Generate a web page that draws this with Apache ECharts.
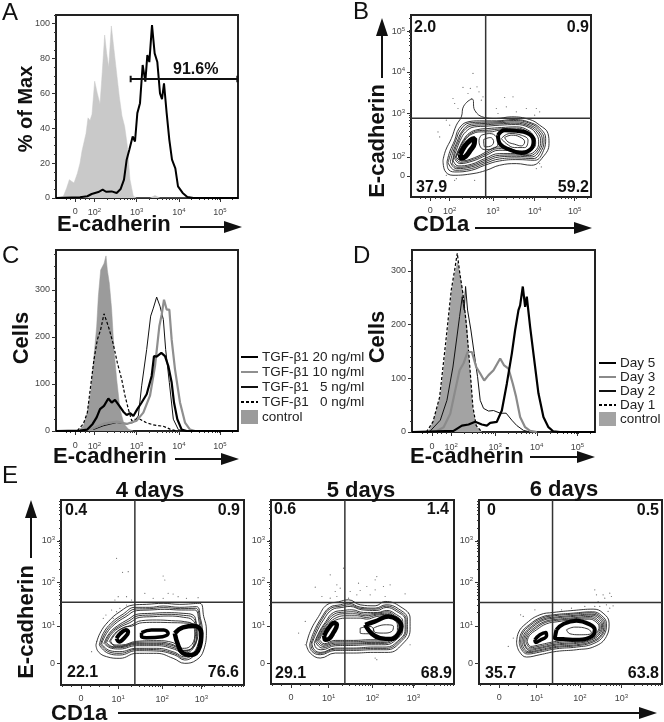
<!DOCTYPE html>
<html><head><meta charset="utf-8">
<style>html,body{margin:0;padding:0;background:#fff}#c{width:664px;height:722px;filter:blur(.4px)}</style>
<script src="https://cdn.jsdelivr.net/npm/echarts@6/dist/echarts.min.js"></script>
</head><body><div id="c"></div>
<script>
// ---------- Panel A : % of Max vs display channel ----------
const aControl=[[168,0],[190,1],[200,5.7],[208,10.5],[214,10],[222,8.6],[232,14],[240,20],[246,27],[252,27],[258,37],[264,46],[270,44.5],[276,48],[284,67],[292,60],[300,54],[306,70],[314,93.5],[320,83],[326,75],[334,98.7],[342,85],[350,71.5],[358,58],[366,47],[374,41],[382,30],[390,10.5],[400,1],[410,0],[450,0],[465,1.4],[480,0],[714,0]];
const aStained=[[168,0],[240,0.4],[262,1],[275,2.3],[295,3.4],[308,4.8],[318,3.6],[335,3.8],[350,2.9],[362,5.2],[372,10.5],[380,22],[388,27.7],[398,35.3],[405,32.4],[412,48.7],[420,54.4],[428,76.3],[436,66.8],[442,82],[448,78],[456,99.2],[464,83],[472,78],[480,60],[486,56.7],[492,65.8],[500,48.7],[508,33.4],[516,22],[526,17],[534,6.7],[548,2.9],[562,0.6],[580,0],[714,0]];
const aGate=[[392,66.4],[392,70.2],[392,68.3],[712,68.3],[712,70.2],[712,66.4]];
// ---------- Panel C : cells ----------
const cControl=[[235,0.7],[250,11],[262,39],[272,82],[282,159],[290,222.5],[295,286],[302,342],[308,339],[312,356],[318,372],[322,342],[328,314],[335,258],[342,173],[350,110],[360,46.5],[372,15],[385,4],[400,0]];
const c0=[[232,0.7],[250,15],[262,39],[272,96],[282,152],[292,194],[302,215.5],[312,249],[320,233],[328,215.5],[340,184],[352,145],[365,110],[375,75],[385,46.5],[395,22],[405,25],[420,25],[438,18],[460,13],[490,10],[510,4],[530,0]];
const c20=[[168,0],[240,0.7],[262,3],[278,15],[290,29],[300,46.5],[312,53.5],[325,69],[335,60.5],[345,66],[358,53.5],[370,41],[380,34],[390,38],[400,32],[412,46.5],[425,60.5],[440,78],[455,117],[462,159],[470,158],[484,166],[495,159],[505,138],[515,103],[522,60.5],[532,25],[545,3],[560,0],[714,0]];
const c5=[[280,3],[310,11],[350,18],[380,15],[400,18],[415,32],[425,96],[440,173],[452,244],[460,261],[470,284.5],[480,265],[490,237],[497,173],[508,103],[520,25],[535,3],[550,0]];
const c10=[[270,3],[310,15],[350,20],[380,15],[410,22],[430,39],[450,75],[465,138],[478,222.5],[485,247],[492,279],[500,258],[508,258],[515,194],[525,131],[540,60.5],[555,18],[570,3],[585,0]];
// ---------- Panel D : cells ----------
const dControl=[[265,0],[280,22],[300,65],[318,159],[335,264.5],[345,299],[352,317],[360,289],[370,252],[380,196],[388,121],[398,40],[410,9],[425,0]];
const d1=[[258,0],[278,19],[298,65],[316,165],[333,264.5],[344,305],[351,333],[358,299],[368,258],[378,202],[388,128],[398,47],[408,12],[425,0]];
const d2=[[270,2],[300,22],[320,59],[338,121],[350,177],[358,215],[366,252],[372,227],[376,271],[382,227],[392,190],[402,146],[412,103],[420,59],[430,44],[445,39],[460,40],[480,35],[498,35],[515,22],[530,12],[550,3],[570,0]];
const d3=[[290,2],[310,9],[330,34],[345,78],[358,115],[370,128],[382,149],[395,149],[408,121],[420,109],[432,96],[445,106],[460,115],[480,137],[492,124],[505,118],[518,90],[528,65],[540,28],[555,9],[570,2],[590,0]];
const d5=[[215,0],[340,2],[365,12],[385,14],[405,19],[425,14],[440,12],[450,17],[470,19],[485,40],[500,90],[515,146],[525,190],[535,227],[540,236],[548,271],[555,233],[560,252],[570,196],[580,146],[595,72],[610,28],[625,9],[640,1],[660,0],[765,0]];
// ---------- Panel B contours (x channel, y row) ----------
const bRings=[
[[310,480],[318,450],[335,415],[350,375],[365,350],[372,318],[398,297],[405,330],[435,352],[470,355],[515,350],[570,358],[600,375],[625,400],[628,430],[610,470],[575,495],[530,490],[480,495],[440,510],[400,520],[340,525],[315,510]],
[[322,485],[330,455],[345,420],[358,385],[385,365],[420,362],[470,362],[520,358],[575,368],[605,388],[618,415],[612,450],[585,480],[535,478],[480,482],[435,495],[395,510],[345,515],[325,505]],
[[325,487],[335,455],[348,422],[363,388],[390,368],[425,366],[472,365],[522,361],[574,371],[601,391],[613,417],[606,450],[580,475],[532,473],[480,476],[435,490],[395,505],[347,510]],
[[332,485],[340,455],[352,425],[368,392],[395,372],[430,370],[475,368],[525,365],[572,375],[598,395],[608,420],[600,450],[575,470],[530,468],[480,470],[435,485],[395,500],[350,505]],
[[338,490],[345,452],[357,422],[372,392],[400,376],[435,374],[478,371],[526,369],[571,379],[594,398],[603,422],[595,449],[570,466],[527,464],[480,465],[435,480],[395,496],[352,501]],
[[340,480],[350,450],[362,420],[378,395],[405,380],[440,378],[480,375],[528,373],[570,383],[590,402],[597,425],[590,448],[565,462],[525,460],[480,460],[435,475],[395,492],[355,497]],
[[345,475],[358,445],[372,418],[390,398],[415,388],[445,385],[485,382],[530,380],[565,390],[582,408],[588,428],[580,446],[555,456],[520,452],[478,450],[440,465],[400,482],[360,490]],
[[348,472],[361,442],[376,416],[395,399],[420,391],[447,390],[482,386],[530,384],[563,394],[578,411],[583,430],[574,447],[547,454],[512,448],[476,445],[440,460],[402,477],[362,486]],
[[350,470],[365,440],[380,415],[400,400],[425,395],[450,395],[480,390],[530,388],[562,398],[575,415],[578,432],[568,448],[540,452],[505,445],[475,440],[440,455],[405,472],[365,482]],
[[425,405],[450,400],[470,410],[475,430],[460,445],[435,448],[420,435],[418,420]],
[[432,418],[452,412],[462,425],[452,438],[435,440]],
[[485,415],[510,400],[545,405],[565,420],[555,442],[525,442],[500,430]],
[[495,412],[515,405],[540,410],[555,425],[545,437],[525,432],[505,425]]];
const bDense=[
[[362,462],[375,438],[392,420],[405,415],[404,430],[392,450],[378,468],[365,474]],
[[475,405],[495,390],[530,392],[562,398],[582,420],[575,445],[545,458],[510,448],[482,432]]];
const bDots=[[400,220],[370,262],[392,265],[412,260],[418,275],[385,280],[395,295],[430,290],[340,295],[355,325],[345,310],[425,300],[470,325],[495,292],[520,290],[475,340],[500,320],[530,335],[560,325],[590,325],[585,345],[600,335],[310,355],[295,395],[320,360],[300,410],[330,375],[600,490],[605,500],[590,505],[350,535],[405,540],[345,540],[320,525]];
const bQuad=[[[438,45],[438,590]],[[214,354],[754,354]]];
// ---------- Panel E contours ----------
const e4Rings=[
[[288,525],[300,490],[325,455],[360,425],[400,405],[440,403],[490,400],[540,403],[600,400],[612,440],[620,480],[612,540],[590,570],[555,580],[520,565],[470,550],[410,550],[360,565],[320,560],[295,545]],
[[298,525],[310,490],[335,458],[370,432],[405,412],[450,412],[490,408],[540,412],[590,410],[602,445],[608,485],[600,535],[580,560],[555,570],[525,555],[470,543],[410,542],[360,555],[325,550]],
[[302,524],[315,490],[340,460],[374,436],[407,417],[450,416],[492,413],[542,416],[587,415],[600,448],[604,486],[596,532],[577,556],[553,565],[525,551],[470,539],[410,538],[360,550],[328,546]],
[[305,522],[320,490],[345,462],[378,440],[410,422],[450,420],[495,418],[545,420],[585,420],[597,450],[600,485],[592,530],[575,552],[552,560],[525,547],[470,535],[410,535],[360,545],[330,542]],
[[312,520],[328,490],[352,468],[385,448],[415,432],[455,430],[500,428],[550,430],[580,435],[590,460],[595,488],[585,525],[570,545],[550,550],[525,538],[470,527],[410,527],[360,537],[335,535]],
[[316,519],[331,491],[356,470],[387,453],[417,437],[457,435],[502,433],[551,436],[579,442],[589,468],[590,500],[578,532],[552,546],[523,533],[470,523],[410,523],[361,533],[337,532]],
[[320,518],[335,492],[360,472],[390,458],[420,442],[460,440],[505,438],[552,442],[578,450],[588,475],[585,510],[572,538],[548,542],[522,528],[470,520],[410,520],[362,530],[340,530]],
[[328,515],[345,490],[368,475],[395,465],[425,452],[470,450],[515,452],[555,455],[580,465],[585,495],[570,530],[548,535],[520,518],[470,512],[410,514],[365,525],[345,525]],
[[332,513],[348,490],[370,473],[397,468],[428,458],[470,457],[515,458],[552,459],[583,462],[592,495],[578,535],[550,541],[520,524],[470,516],[410,517],[364,528],[345,528]]];
const e4Dense=[
[[350,505],[362,490],[378,480],[385,486],[375,502],[358,515]],
[[425,488],[455,480],[492,480],[505,490],[488,500],[440,503],[425,500]],
[[525,490],[550,472],[585,468],[605,490],[600,530],[575,555],[550,550],[535,525]]];
const e4Dots=[[350,265],[368,307],[385,305],[490,318],[495,330],[355,380],[345,390],[380,380],[395,390],[435,370],[460,385],[490,385],[505,370],[520,372],[535,380],[560,385],[595,383],[350,425],[335,420],[318,435],[310,445],[275,545],[290,515],[340,445],[380,405],[360,415]];
const e4Quad=[[[405,90],[405,645]],[[183,397],[733,397]]];

const e5Rings=[
[[138,525],[150,485],[175,440],[200,405],[235,396],[265,390],[300,405],[345,408],[375,395],[420,410],[450,445],[450,480],[425,525],[385,548],[340,548],[280,550],[225,550],[180,565],[150,550]],
[[148,525],[160,488],[183,445],[208,413],[240,405],[265,400],[300,412],[345,415],[378,405],[415,417],[442,448],[442,480],[418,520],[380,540],[340,540],[280,542],[225,542],[180,555],[155,545]],
[[152,524],[164,489],[186,447],[211,416],[242,409],[267,405],[302,416],[347,418],[378,409],[412,421],[438,449],[438,480],[415,517],[379,536],[340,536],[280,538],[225,538],[181,551],[158,542]],
[[155,522],[168,490],[190,450],[215,420],[245,413],[270,410],[305,420],[350,422],[378,413],[410,425],[435,450],[435,480],[412,515],[378,532],[340,532],[280,535],[225,535],[182,548],[162,540]],
[[162,520],[175,490],[195,458],[220,428],[250,422],[275,420],[310,428],[352,428],[380,422],[405,432],[428,455],[428,480],[408,510],[375,525],[335,525],[280,527],[225,528],[185,540],[168,535]],
[[166,517],[178,489],[198,459],[222,433],[252,427],[280,426],[312,433],[351,430],[381,426],[403,436],[424,457],[424,481],[405,507],[373,521],[335,521],[280,523],[225,524],[186,535]],
[[170,515],[182,488],[202,460],[225,438],[255,432],[285,432],[315,438],[350,433],[382,430],[402,440],[420,460],[420,482],[402,505],[372,518],[335,518],[280,520],[225,520],[188,530]],
[[174,512],[186,486],[206,461],[230,443],[257,438],[292,438],[318,443],[350,436],[381,434],[401,444],[416,462],[416,482],[400,502],[371,514],[332,514],[280,516],[225,516],[190,526]],
[[178,510],[190,485],[210,462],[235,448],[260,445],[300,445],[320,448],[350,440],[380,438],[400,448],[412,465],[412,482],[398,500],[370,510],[330,510],[280,512],[225,512],[192,522]],
[[340,475],[375,465],[400,470],[395,485],[370,490],[345,488]],
[[300,475],[330,470],[340,480],[330,492],[300,490]]];
const e5Dense=[
[[192,498],[205,475],[222,460],[230,465],[220,488],[205,508],[195,510]],
[[315,465],[345,455],[385,440],[412,450],[424,470],[415,492],[395,508],[360,505],[335,492]]];
const e5Dots=[[210,315],[250,295],[350,320],[345,330],[295,340],[320,350],[345,360],[370,350],[390,345],[165,352],[230,345],[240,355],[185,380],[210,385],[230,380],[265,385],[290,375],[270,365],[300,362],[330,375],[375,380],[435,372],[135,455],[115,490],[135,525],[345,565],[350,570],[445,430],[450,525],[225,365]];
const e5Quad=[[[254,90],[254,643]],[[32,398],[582,398]]];

const e6Rings=[
[[770,520],[775,490],[800,460],[840,435],[880,428],[940,422],[1000,418],[1030,430],[1048,460],[1040,500],[1005,530],[950,540],[890,545],[840,555],[800,562],[778,545]],
[[778,520],[783,492],[808,465],[845,442],[882,435],[940,430],[998,426],[1025,437],[1040,462],[1032,497],[1000,522],[950,532],[890,537],[840,547],[803,553],[785,540]],
[[782,519],[787,493],[811,467],[847,445],[883,438],[940,433],[996,429],[1022,440],[1036,463],[1028,495],[997,518],[950,528],[890,533],[840,543],[804,549],[788,537]],
[[786,518],[792,494],[815,470],[850,448],[885,442],[940,437],[995,433],[1020,443],[1032,465],[1025,494],[995,515],[950,525],[890,530],[840,540],[806,546],[792,535]],
[[790,517],[796,495],[818,472],[852,451],[886,445],[940,440],[993,436],[1017,446],[1028,466],[1021,492],[992,512],[950,521],[890,526],[840,536],[808,542]],
[[794,516],[800,496],[822,475],[855,455],[888,449],[940,444],[992,440],[1014,450],[1025,468],[1018,490],[990,510],[950,518],[890,523],[840,533],[810,538],[798,530]],
[[798,515],[804,497],[826,477],[857,458],[890,452],[940,447],[990,444],[1011,453],[1021,470],[1014,489],[987,506],[950,514],[890,519],[840,529],[811,534]],
[[802,515],[808,498],[830,480],[860,462],[892,456],[940,450],[988,448],[1008,456],[1018,472],[1010,488],[985,503],[950,510],[890,515],[840,525],[812,530]],
[[920,480],[945,472],[985,478],[995,490],[960,495],[930,492]]];
const e6Dense=[
[[890,480],[912,462],[950,453],[988,463],[1005,480],[996,500],[958,510],[910,508],[885,505]],
[[825,510],[840,495],[858,488],[860,498],[840,512],[828,518]]];
const e6Dots=[[1005,360],[1010,375],[1030,375],[1050,370],[1035,385],[1055,380],[1015,395],[1040,405],[1020,410],[1050,415],[1060,408],[1045,425],[825,420],[782,435],[745,530],[760,505],[905,420],[935,415],[1005,410],[975,410],[790,440]];
const e6Quad=[[[878,90],[878,643]],[[657,398],[1207,398]]];

// ---------- Tick positions and labels ----------
const aXTicks=[226,283,410,537,660], histXLabels=['0','2','3','4','5'];
const bXTicks=[272,330,460,585,705], bYTicks=[527,470,340,215,95];
const cXTicks=[226,283,410,537,660];
const dXTicks=[275,333,465,590,712];
const eXLabels=['0','1','2','3'];
const e4XTicks=[243,355,487,605], e5XTicks=[92,205,337,460], e6XTicks=[718,830,960,1085];
const eYTicks=[580,468,337,213];
const aYTicks=[0,20,40,60,80,100], cYTicks=[0,100,200,300], dYTicks=[0,100,200,300];

const F='"Liberation Sans",Arial,sans-serif', TICK='#444';
const grid=[],xAxis=[],yAxis=[],series=[],graphic=[];
const fmtSup=(pos,labs)=>v=>{const i=pos.indexOf(v);if(i<0)return '';return labs[i]==='0'?'0':(/^\d$/.test(labs[i])?'10{s|'+labs[i]+'}':labs[i]);};
const LOGK=[2,3,4,5,6,7,8,9].map(k=>Math.log10(k));
function logMinors(p,lo,hi){
  const out=[];const dec=p[2]-p[1];
  for(let i=1;i<p.length;i++){LOGK.forEach(o=>{const v=p[i]+o*dec;if(v>Math.min(lo,hi)&&v<Math.max(lo,hi))out.push(v);});}
  const st=(p[1]-p[0])/4;
  for(let v=p[0]-2*st;v<p[1];v+=st){if(v>Math.min(lo,hi)&&v<Math.max(lo,hi)&&Math.abs(v-p[0])>1)out.push(v);}
  return out;
}
function panel(c){
  const g=grid.length,[l,t,r,b]=c.box;
  grid.push({left:l,top:t,width:r-l,height:b-t,show:true,borderColor:'#222',borderWidth:2,backgroundColor:'#fff',containLabel:false,z:0});
  const rich={s:{fontSize:6,color:TICK,padding:[0,0,5,0],fontFamily:F}};
  const mk=(range,pos,labs,minor,extra,margin)=>[
    Object.assign({type:'value',gridIndex:g,min:range[0],max:range[1],splitLine:{show:false},axisLine:{show:false},
      axisTick:{show:true,length:4,lineStyle:{color:'#333',width:1},customValues:pos},
      axisLabel:{show:true,fontSize:9,color:TICK,fontFamily:F,margin,rich,customValues:pos,formatter:fmtSup(pos,labs)}},extra),
    Object.assign({type:'value',gridIndex:g,min:range[0],max:range[1],splitLine:{show:false},axisLine:{show:false},
      axisTick:{show:true,length:2,lineStyle:{color:'#333',width:1},customValues:minor},
      axisLabel:{show:false}},extra)];
  xAxis.push(...mk(c.xr,c.xt,c.xl,c.xm,{position:'bottom'},c.xmargin||8));
  yAxis.push(...mk(c.yr,c.yt,c.yl,c.ym,{position:'left',inverse:!!c.inv},6));
  return {xAxisIndex:2*g,yAxisIndex:2*g};
}
const noSym={type:'line',symbol:'none',silent:true,animation:false,smooth:false};
function hist(ax,name,data,color,width,extra){series.push(Object.assign({},noSym,ax,{name,data,lineStyle:{color,width},itemStyle:{color}},extra||{}));}
function contour(ax,rings,dense,dots,quad,dw){
  rings.forEach(r=>series.push(Object.assign({},noSym,ax,{data:r.concat([r[0]]),smooth:0.45,lineStyle:{color:'#222',width:0.9},z:3})));
  dense.forEach((r,i)=>series.push(Object.assign({},noSym,ax,{data:r.concat([r[0]]),smooth:0.45,lineStyle:{color:'#000',width:dw[i]||2},z:4})));
  series.push(Object.assign({},ax,{type:'scatter',data:dots,symbolSize:1.2,silent:true,animation:false,itemStyle:{color:'#444'},z:3}));
  quad.forEach(q=>series.push(Object.assign({},noSym,ax,{data:q,lineStyle:{color:'#333',width:1.5},z:5})));
}
function txt(s,x,y,o){o=o||{};graphic.push({type:'text',x,y,rotation:o.rot||0,z:20,silent:true,style:{text:s,fill:o.color||'#111',font:(o.bold===false?'':'bold ')+(o.size||16)+'px '+F,textAlign:o.align||'left',textVerticalAlign:'middle'}});}
function arrow(x1,y1,x2,y2){
  const a=Math.atan2(y2-y1,x2-x1),L=18,W=6,bx=x2-L*Math.cos(a),by=y2-L*Math.sin(a),nx=-Math.sin(a),ny=Math.cos(a);
  graphic.push({type:'line',z:20,silent:true,shape:{x1,y1,x2:bx,y2:by},style:{stroke:'#111',lineWidth:2}});
  graphic.push({type:'polygon',z:20,silent:true,shape:{points:[[x2,y2],[bx+nx*W,by+ny*W],[bx-nx*W,by-ny*W]]},style:{fill:'#111'}});
}

let ax=panel({box:[56,15,238,198],xr:[168,714],yr:[0,105],xt:aXTicks,xl:histXLabels,xm:logMinors(aXTicks,168,714),yt:aYTicks,yl:aYTicks.map(String),ym:[5,10,15,25,30,35,45,50,55,65,70,75,85,90,95,105],xmargin:9});
hist(ax,'A control',aControl,'#c9c9c9',0.5,{areaStyle:{color:'#c9c9c9',opacity:1},z:2});
hist(ax,'A stained',aStained,'#000',2,{z:3});
hist(ax,'A gate',aGate,'#111',2,{z:4});
ax=panel({box:[56,250,238,431],xr:[168,714],yr:[0,384.5],xt:cXTicks,xl:histXLabels,xm:logMinors(cXTicks,168,714),yt:cYTicks,yl:cYTicks.map(String),ym:[25,50,75,125,150,175,225,250,275,325,350,375],xmargin:10});
hist(ax,'control',cControl,'#9b9b9b',0.5,{areaStyle:{color:'#9b9b9b',opacity:1},z:2});
hist(ax,'TGF-β1   0 ng/ml',c0,'#000',1.2,{lineStyle:{color:'#000',width:1.2,type:[3,2]},z:3});
hist(ax,'TGF-β1   5 ng/ml',c5,'#111',1,{z:3});
hist(ax,'TGF-β1 10 ng/ml',c10,'#8f8f8f',2.2,{z:4});
hist(ax,'TGF-β1 20 ng/ml',c20,'#000',2.2,{z:5});
ax=panel({box:[412,250,595,432],xr:[215,765],yr:[0,339],xt:dXTicks,xl:histXLabels,xm:logMinors(dXTicks,215,765),yt:dYTicks,yl:dYTicks.map(String),ym:[20,40,60,80,120,140,160,180,220,240,260,280,320],xmargin:10});
hist(ax,'control ',dControl,'#a3a3a3',0.5,{areaStyle:{color:'#a3a3a3',opacity:1},z:2});
hist(ax,'Day 1',d1,'#000',1.2,{lineStyle:{color:'#000',width:1.2,type:[3,2]},z:3});
hist(ax,'Day 2',d2,'#111',1,{z:3});
hist(ax,'Day 3',d3,'#8a8a8a',2.2,{z:4});
hist(ax,'Day 5',d5,'#000',2.2,{z:5});
ax=panel({box:[411,15,591,197],xr:[214,754],yr:[45,590],inv:true,xt:bXTicks,xl:histXLabels,xm:logMinors(bXTicks,214,754),yt:bYTicks,yl:['0','2','3','4','5'],ym:logMinors(bYTicks,45,590),xmargin:9});
contour(ax,bRings,bDense,bDots,bQuad,[5,4]);
const eTiers=[[e4XTicks,[183,733],645,e4Rings,e4Dense,e4Dots,e4Quad,[61,500,244,685],[4,3.5,4.5]],
 [e5XTicks,[32,582],643,e5Rings,e5Dense,e5Dots,e5Quad,[271,500,454,684],[4.5,4.5]],
 [e6XTicks,[657,1207],643,e6Rings,e6Dense,e6Dots,e6Quad,[479,500,662,684],[4,3.5]]];
eTiers.forEach(([xt,xr,yb,rings,dense,dots,quad,box,dw])=>{
  const a=panel({box,xr,yr:[90,yb],inv:true,xt,xl:eXLabels,xm:logMinors(xt,xr[0],xr[1]),yt:eYTicks,yl:['0','1','2','3'],ym:logMinors(eYTicks,90,yb),xmargin:9});
  contour(a,rings,dense,dots,quad,dw);
});

[['A',2,13],['B',353,12],['C',2,256],['D',353,256],['E',2,476]].forEach(p=>txt(p[0],p[1],p[2],{size:24,bold:false}));
txt('% of Max',26,109,{size:20,align:'center',rot:Math.PI/2});
txt('E-cadherin',57,225,{size:22});
arrow(180,227,242,227);
txt('91.6%',173,70);
txt('E-cadherin',378,141,{size:22,align:'center',rot:Math.PI/2});
arrow(382,78,382,18);
txt('CD1a',413,225,{size:22});
arrow(475,228,592,228);
txt('Cells',22,338,{size:22,align:'center',rot:Math.PI/2});
txt('E-cadherin',53,457,{size:22});
arrow(175,459,239,459);
txt('Cells',378,337,{size:22,align:'center',rot:Math.PI/2});
txt('E-cadherin',410,457,{size:22});
arrow(530,457,595,457);
txt('E-cadherin',27,622,{size:22,align:'center',rot:Math.PI/2});
arrow(31,558,31,500);
txt('CD1a',51,714,{size:22});
arrow(118,713,657,713);
txt('4 days',150,491,{size:22,align:'center'});
txt('5 days',361,491,{size:22,align:'center'});
txt('6 days',564,490,{size:22,align:'center'});
[['2.0',414,28],['37.9',416,188]].forEach(p=>txt(p[0],p[1],p[2]));
[['0.9',589,28],['59.2',589,188]].forEach(p=>txt(p[0],p[1],p[2],{align:'right'}));
[['0.4',65,511],['22.1',67,673],['0.6',274,510],['29.1',275,674],['0',487,511],['35.7',485,674]].forEach(p=>txt(p[0],p[1],p[2]));
[['0.9',240,511],['76.6',239,673],['1.4',449,510],['68.9',452,674],['0.5',659,511],['63.8',659,674]].forEach(p=>txt(p[0],p[1],p[2],{align:'right'}));

const legBase={orient:'vertical',padding:0,itemGap:1,itemWidth:17,itemHeight:14,selectedMode:false,textStyle:{fontSize:13.5,color:'#222',fontFamily:F,padding:[0,0,0,-1]}};
const lineItem=name=>({name,itemStyle:{opacity:0}});
const chart=echarts.init(document.getElementById('c'),null,{renderer:'canvas'});
chart.setOption({animation:false,backgroundColor:'#fff',grid,xAxis,yAxis,series,graphic:{elements:graphic},
 legend:[
  Object.assign({},legBase,{left:240,top:350,data:['TGF-β1 20 ng/ml','TGF-β1 10 ng/ml','TGF-β1   5 ng/ml','TGF-β1   0 ng/ml'].map(lineItem).concat([{name:'control',icon:'rect'}])}),
  Object.assign({},legBase,{left:598,top:356,itemGap:0,data:['Day 5','Day 3','Day 2','Day 1'].map(lineItem).concat([{name:'control ',icon:'rect'}])})
 ]});
</script></body></html>
